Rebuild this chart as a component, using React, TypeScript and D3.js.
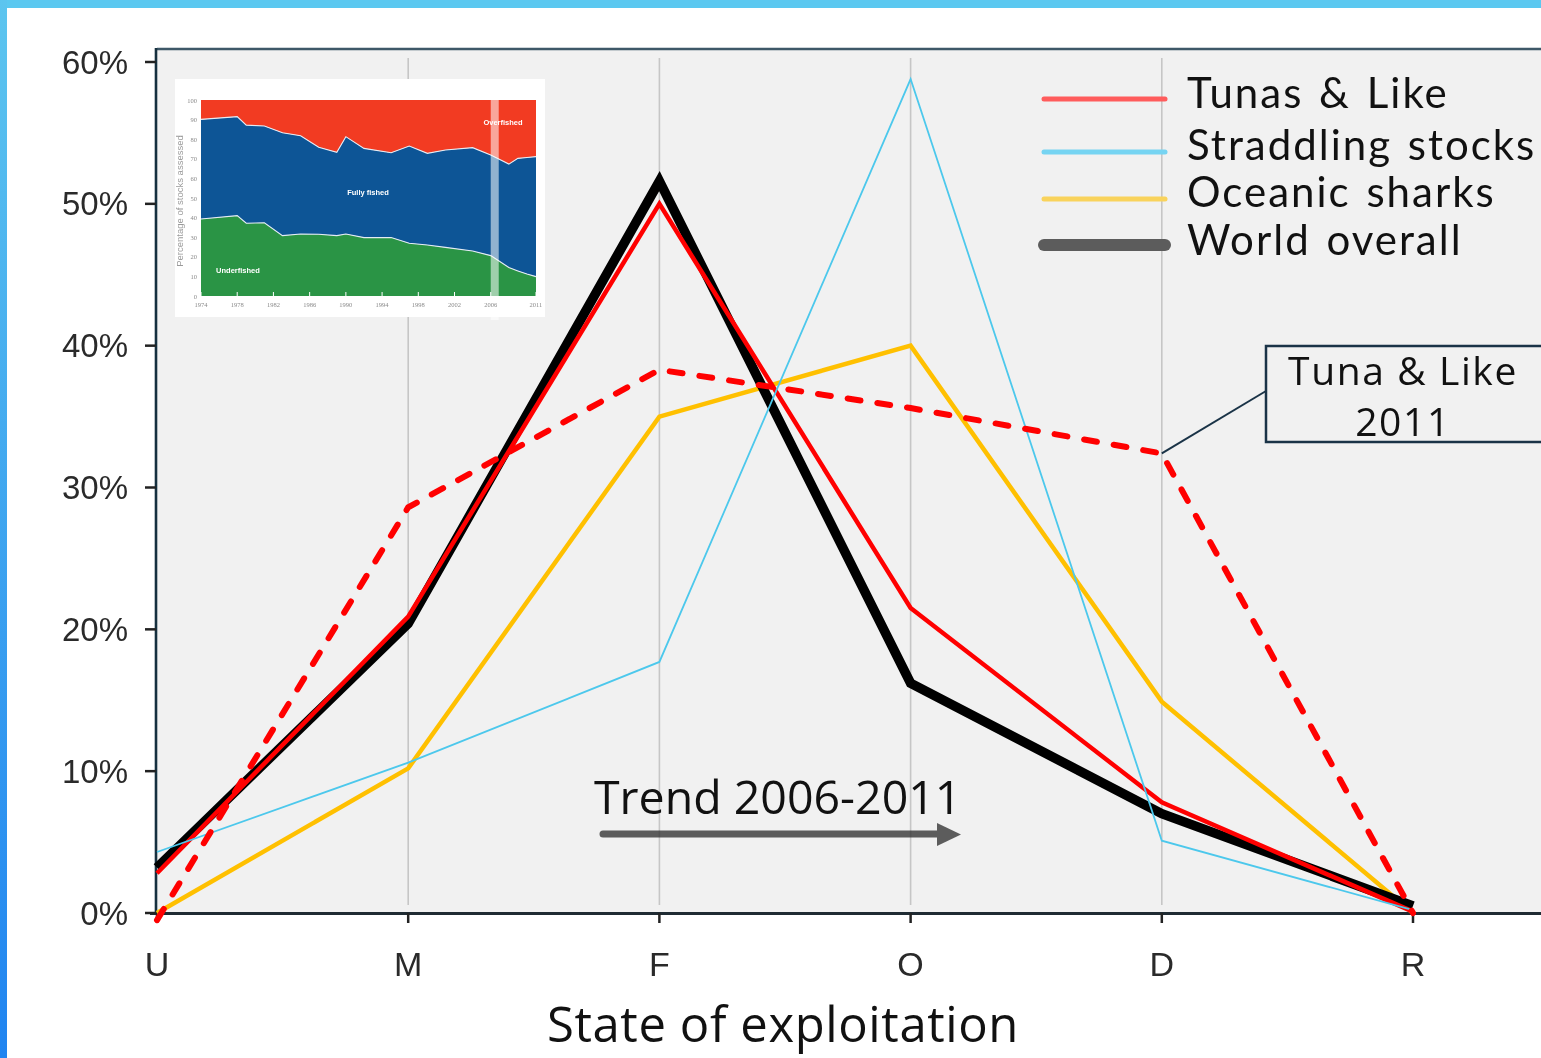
import React from "react";
import * as d3 from "d3";

// Stock status categories along the x axis
const categories = ["U", "M", "F", "O", "D", "R"];
// Share of stocks (%) in each category
const tunasLike = [2.8, 20.9, 50.0, 21.5, 7.8, 0.1];
const straddlingStocks = [4.3, 10.6, 17.7, 58.8, 5.1, 0.2];
const oceanicSharks = [0, 10.2, 35.0, 40.0, 14.9, 0];
const worldOverall = [3.2, 20.4, 51.6, 16.2, 7.0, 0.5];
const tunas2011 = [-0.5, 28.6, 38.3, 35.6, 32.4, 0];
const yTicks = [0, 10, 20, 30, 40, 50, 60];

// Inset: global stock status over time (percentage of stocks assessed)
const insetYears = [1974, 1978, 1979, 1981, 1983, 1985, 1987, 1989, 1990, 1992, 1995, 1997, 1999, 2001, 2004, 2006, 2008, 2009, 2010, 2011];
const insetUnderfished = [39.3, 41.0, 37.1, 37.4, 30.8, 31.6, 31.5, 30.8, 31.6, 29.8, 29.8, 26.9, 26.0, 24.8, 23.0, 20.6, 14.5, 12.8, 11.2, 9.9];
const insetFullyFished = [50.8, 50.5, 50.1, 49.3, 52.5, 50.2, 44.4, 42.5, 49.7, 45.5, 43.3, 49.6, 46.8, 49.7, 52.7, 51.3, 52.8, 57.4, 59.5, 61.2];
const insetYTicks = [0, 10, 20, 30, 40, 50, 60, 70, 80, 90, 100];
const insetXTicks = [1974, 1978, 1982, 1986, 1990, 1994, 1998, 2002, 2006, 2011];

const W = 1541;
const H = 1058;

const x = d3.scalePoint<string>().domain(categories).range([157, 1413]);
const y = d3.scaleLinear().domain([0, 60]).range([913, 62]);

const lineGen = d3
  .line<number>()
  .x((_, i) => x(categories[i]) as number)
  .y((d) => y(d));

const series = [
  { name: "Oceanic sharks", values: oceanicSharks, color: "#ffc000", width: 4.5, dash: undefined as string | undefined },
  { name: "World overall", values: worldOverall, color: "#000000", width: 9.5, dash: undefined },
  { name: "Tunas & Like", values: tunasLike, color: "#ff0000", width: 4.5, dash: undefined },
  { name: "Straddling stocks", values: straddlingStocks, color: "#4cc8ec", width: 1.8, dash: undefined },
  { name: "Tuna & Like 2011", values: tunas2011, color: "#ff0000", width: 6, dash: "13 17" },
];

const legend = [
  { label: "Tunas & Like", color: "#ff5c5c", width: 5, y: 99, ty: 108 },
  { label: "Straddling stocks", color: "#76d4f2", width: 5, y: 152, ty: 160 },
  { label: "Oceanic sharks", color: "#f9d35c", width: 5, y: 199, ty: 207 },
  { label: "World overall", color: "#5c5c5c", width: 12, y: 245, ty: 255 },
];

function Inset() {
  const ix = d3.scaleLinear().domain([1974, 2011]).range([201, 536]);
  const iy = d3.scaleLinear().domain([0, 100]).range([296, 100]);
  const rows = insetYears.map((yr, i) => ({
    year: yr,
    under: insetUnderfished[i],
    fully: insetFullyFished[i],
    over: 100 - insetUnderfished[i] - insetFullyFished[i],
  }));
  const stack = d3.stack<any>().keys(["under", "fully", "over"])(rows);
  const area = d3
    .area<any>()
    .x((d) => ix(d.data.year))
    .y0((d) => iy(d[0]))
    .y1((d) => iy(d[1]));
  const boundary = d3
    .line<any>()
    .x((d) => ix(d.data.year))
    .y((d) => iy(d[1]));
  const colors = ["#2b9445", "#0d5596", "#f23a22"];
  const lbl = { fontSize: 7.5, fill: "#ffffff", textAnchor: "middle" as const, fontFamily: "Liberation Sans Narrow, Liberation Sans", fontWeight: 700 };
  return (
    <g filter="url(#soft)">
      <rect x={175} y={79} width={370} height={238} fill="#ffffff" />
      {stack.map((s, i) => (
        <path key={i} d={area(s) as string} fill={colors[i]} />
      ))}
      {stack.slice(0, 2).map((s, i) => (
        <path key={"b" + i} d={boundary(s) as string} fill="none" stroke="#e4ecf4" strokeWidth={1.1} />
      ))}
      <rect x={ix(2006)} y={iy(100)} width={8} height={220} fill="#ffffff" opacity={0.55} />
      {insetYTicks.map((t) => (
        <text key={t} x={197} y={iy(t)} fontSize={6.5} fill="#8a8a8a" textAnchor="end" dominantBaseline="central" fontFamily="Liberation Serif, serif">
          {t}
        </text>
      ))}
      {insetXTicks.map((t) => (
        <g key={t}>
          <line x1={ix(t)} x2={ix(t)} y1={iy(0)} y2={iy(0) - 4} stroke="#ffffff" strokeWidth={1} />
          <text x={ix(t)} y={307} fontSize={6.5} fill="#8a8a8a" textAnchor="middle" fontFamily="Liberation Serif, serif">
            {t}
          </text>
        </g>
      ))}
      <text transform={`translate(183,201) rotate(-90)`} fontSize={9.5} fill="#9a9a9a" textAnchor="middle" fontFamily="Liberation Sans, Arial">
        Percentage of stocks assessed
      </text>
      <text x={503} y={125} {...lbl}>
        Overfished
      </text>
      <text x={368} y={195} {...lbl}>
        Fully fished
      </text>
      <text x={238} y={273} {...lbl}>
        Underfished
      </text>
    </g>
  );
}

export default function App() {
  const gridCats = categories.slice(1, 5);
  return (
    <div style={{ position: "absolute", left: 0, top: 0 }}>
      <svg width={W} height={H} viewBox={`0 0 ${W} ${H}`} style={{ display: "block" }}>
        <defs>
          <linearGradient id="edge" x1="0" y1="0" x2="0" y2="1">
            <stop offset="0" stopColor="#5cc5ef" />
            <stop offset="1" stopColor="#2084f0" />
          </linearGradient>
          <filter id="soft" x="-5%" y="-5%" width="110%" height="110%">
            <feGaussianBlur stdDeviation={0.55} />
          </filter>
          <filter id="softText" x="-10%" y="-10%" width="120%" height="120%">
            <feGaussianBlur stdDeviation={0.45} />
          </filter>
        </defs>
        <rect x={0} y={0} width={W} height={H} fill="#ffffff" />
        <rect x={0} y={0} width={W} height={8} fill="#5bc8f0" />
        <rect x={0} y={0} width={7} height={H} fill="url(#edge)" />

        {/* plot area */}
        <rect x={157} y={48} width={1400} height={865} fill="#f1f1f1" />
        <line x1={157} x2={W} y1={49} y2={49} stroke="#3e5868" strokeWidth={2.5} />

        {gridCats.map((c) => (
          <line key={c} x1={x(c)} x2={x(c)} y1={58} y2={905} stroke="#c6c6c6" strokeWidth={1.6} />
        ))}

        <Inset />

        {/* axes */}
        <line x1={156} x2={156} y1={48} y2={914} stroke="#16303f" strokeWidth={2.6} />
        <line x1={150} x2={W} y1={913.5} y2={913.5} stroke="#1f2b33" strokeWidth={3} />
        <g filter="url(#softText)">
          {yTicks.map((t) => (
            <g key={t}>
              <line x1={145} x2={156} y1={y(t)} y2={y(t)} stroke="#222" strokeWidth={2.5} />
              <text x={128} y={y(t)} textAnchor="end" dominantBaseline="central" fontSize={33} fill="#2a2a2a" fontFamily="Liberation Sans, Arial">
                {t}%
              </text>
            </g>
          ))}
          {categories.map((c) => (
            <g key={c}>
              <line x1={x(c)} x2={x(c)} y1={913} y2={923} stroke="#222" strokeWidth={2.5} />
              <text x={x(c)} y={964} textAnchor="middle" dominantBaseline="central" fontSize={34} fill="#2a2a2a" fontFamily="Liberation Sans, Arial">
                {c}
              </text>
            </g>
          ))}
        </g>

        {/* trend arrow */}
        <text x={594} y={814} fontSize={46.5} fill="#111" fontFamily="Open Sans, Noto Sans, sans-serif">
          Trend 2006-2011
        </text>
        <g opacity={0.78}>
          <line x1={603} x2={940} y1={834} y2={834} stroke="#333" strokeWidth={7} strokeLinecap="round" />
          <polygon points="937,823 961,834.5 937,846" fill="#333" />
        </g>

        {/* series */}
        {series.map((s) => (
          <path
            key={s.name}
            d={lineGen(s.values) as string}
            fill="none"
            stroke={s.color}
            strokeWidth={s.width}
            strokeDasharray={s.dash}
            strokeLinecap={s.dash ? "round" : "butt"}
            strokeLinejoin="miter"
          />
        ))}

        {/* legend */}
        {legend.map((l) => (
          <g key={l.label}>
            <line x1={1044} x2={1165} y1={l.y} y2={l.y} stroke={l.color} strokeWidth={l.width} strokeLinecap="round" />
            <text x={1187} y={l.ty} fontSize={42} fill="#111" fontFamily="Lato, sans-serif" letterSpacing={2} wordSpacing={3}>
              {l.label}
            </text>
          </g>
        ))}

        {/* 2011 callout */}
        <line x1={x("D")} x2={1266} y1={y(tunas2011[4])} y2={391} stroke="#1a3347" strokeWidth={2} />
        <rect x={1266} y={346} width={300} height={96} fill="#f1f1f1" stroke="#1a3347" strokeWidth={2.5} />
        <text x={1403} y={385} textAnchor="middle" fontSize={39} letterSpacing={1.6} fill="#111" fontFamily="Open Sans, Noto Sans, sans-serif">
          Tuna &amp; Like
        </text>
        <text x={1403} y={436} textAnchor="middle" fontSize={39} letterSpacing={1.6} fill="#111" fontFamily="Open Sans, Noto Sans, sans-serif">
          2011
        </text>

        <text x={783} y={1042} textAnchor="middle" fontSize={49} letterSpacing={0.6} fill="#111" fontFamily="Open Sans, Noto Sans, sans-serif">
          State of exploitation
        </text>
      </svg>
    </div>
  );
}
